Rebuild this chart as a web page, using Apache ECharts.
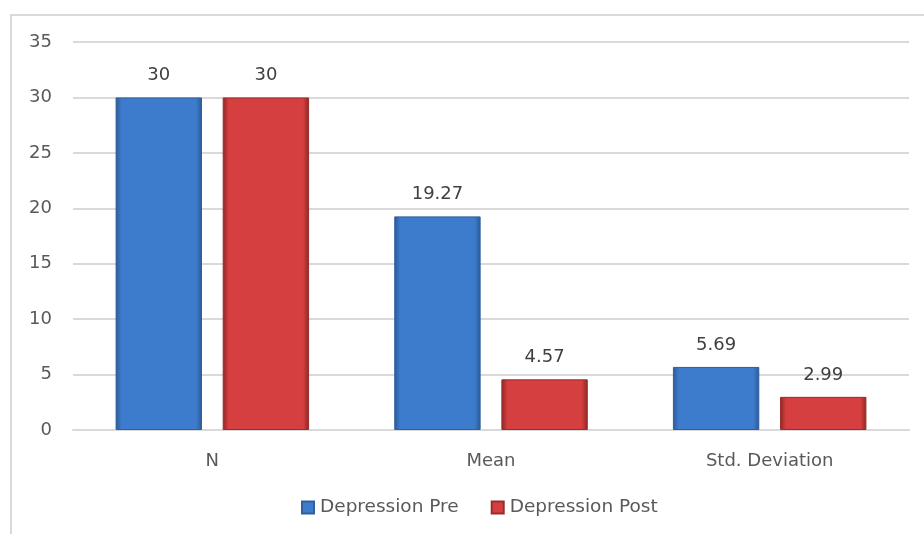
<!DOCTYPE html>
<html>
<head>
<meta charset="utf-8">
<script src="https://cdn.jsdelivr.net/npm/echarts@6/dist/echarts.min.js"></script>
<style>
  html, body { margin: 0; padding: 0; background: #fff; }
  #chart { width: 924px; height: 534px; }
</style>
</head>
<body>
<div id="chart"></div>
<script>
// Descriptive statistics of depression scores, before and after
const categories = ['N', 'Mean', 'Std. Deviation'];
const preValues = [30, 19.27, 5.69];
const postValues = [30, 4.57, 2.99];
const seriesNames = ['Depression Pre', 'Depression Post'];

const FONT = 'DejaVu Sans';

// Horizontal shading gives the bars a bevelled look
function bevel(edge, main) {
  return new echarts.graphic.LinearGradient(0, 0, 1, 0, [
    { offset: 0, color: edge },
    { offset: 0.07, color: main },
    { offset: 0.93, color: main },
    { offset: 1, color: edge }
  ]);
}

const labelStyle = {
  show: true,
  position: 'top',
  distance: 13,
  color: '#404040',
  fontSize: 18,
  fontFamily: FONT,
  formatter: p => String(p.value)
};

const chart = echarts.init(document.getElementById('chart'));
chart.setOption({
  animation: false,
  textStyle: { fontFamily: FONT },
  graphic: [{
    type: 'rect',
    shape: { x: 11, y: 15, width: 940, height: 560 },
    style: { fill: 'none', stroke: '#d9d9d9', lineWidth: 2 },
    silent: true
  }],
  grid: { left: 73, right: 15, top: 42, bottom: 104 },
  legend: {
    bottom: 12,
    left: 296,
    itemWidth: 12,
    itemHeight: 12,
    itemGap: 32,
    icon: 'rect',
    textStyle: { color: '#595959', fontSize: 18.5, fontFamily: FONT, padding: [0, 0, 0, 1] },
    data: seriesNames
  },
  xAxis: {
    type: 'category',
    data: categories,
    axisLine: { lineStyle: { color: '#d9d9d9', width: 2 } },
    axisTick: { show: false },
    axisLabel: { color: '#595959', fontSize: 18, margin: 22 }
  },
  yAxis: {
    type: 'value',
    min: 0,
    max: 35,
    interval: 5,
    axisLine: { show: false },
    axisTick: { show: false },
    axisLabel: { color: '#595959', fontSize: 18, margin: 21 },
    splitLine: { lineStyle: { color: '#d9d9d9', width: 2 } }
  },
  series: [
    {
      name: seriesNames[0],
      type: 'bar',
      data: preValues,
      barWidth: '31%',
      barGap: '24%',
      itemStyle: {
        color: bevel('#2a5a96', '#3d7ccc'),
        borderColor: '#2f5f9c',
        borderWidth: 1
      },
      label: labelStyle
    },
    {
      name: seriesNames[1],
      type: 'bar',
      data: postValues,
      barWidth: '31%',
      itemStyle: {
        color: bevel('#8e2626', '#d63f3f'),
        borderColor: '#9a2c2c',
        borderWidth: 1
      },
      label: labelStyle
    }
  ]
});
</script>
</body>
</html>
